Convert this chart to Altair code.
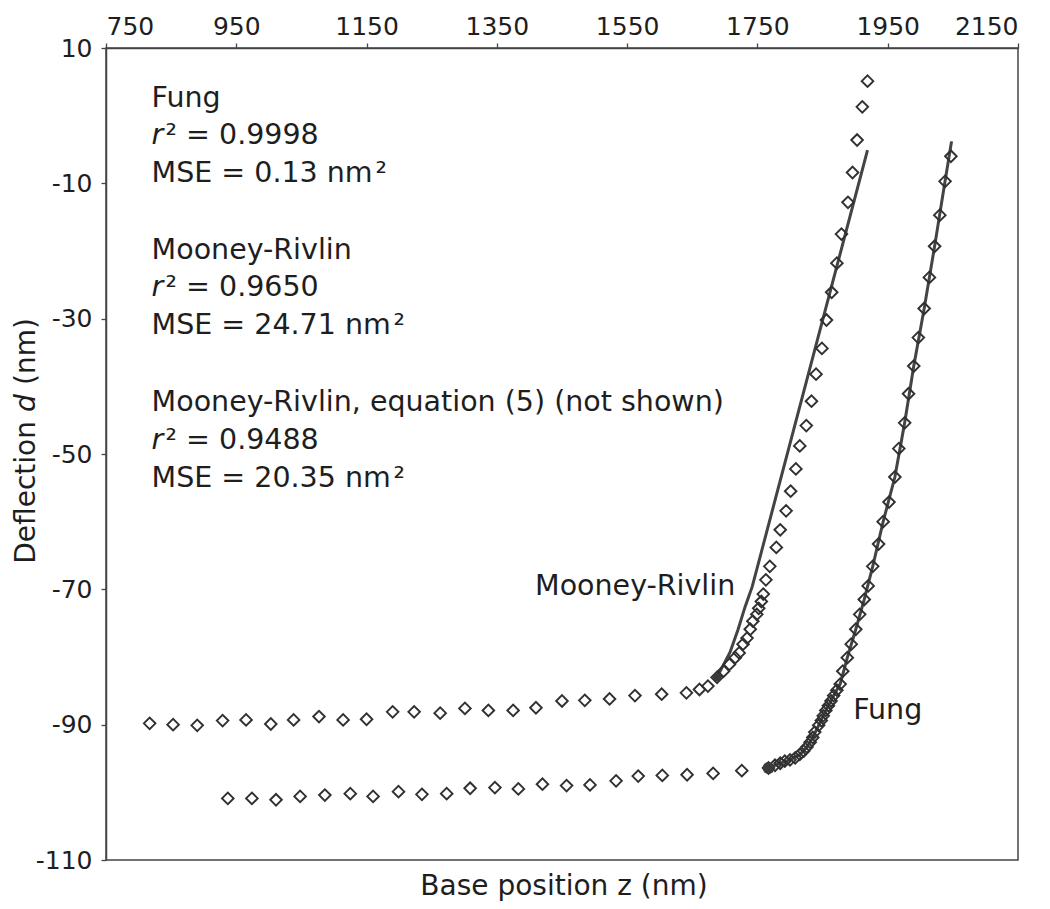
import altair as alt
import pandas as pd

FONT = "DejaVu Sans"
INK = "#1e1e1e"
GREY = "#444444"

# ---- measured data (base position z in nm, deflection d in nm) ----
# upper series (fitted with Mooney-Rivlin)
mr_z = [817, 853, 890, 929, 965, 1003, 1038, 1077, 1114, 1150, 1190, 1223, 1263, 1301,
        1337, 1375, 1410, 1450, 1485, 1523, 1562, 1603,
        1641, 1661, 1674, 1688, 1698, 1707, 1716, 1722, 1728, 1734, 1739, 1743, 1749,
        1752, 1756, 1759, 1763, 1769, 1779, 1785, 1794, 1801, 1809, 1815, 1825, 1833,
        1840, 1849, 1856, 1864, 1872, 1879, 1889, 1896, 1903, 1911, 1919]
mr_d = [-89.8, -90.0, -90.1, -89.4, -89.3, -89.9, -89.3, -88.8, -89.3, -89.2, -88.1, -88.1,
        -88.3, -87.6, -87.9, -87.9, -87.5, -86.5, -86.4, -86.2, -85.7, -85.5,
        -85.3, -84.8, -84.3, -83.0, -82.1, -81.1, -80.1, -79.4, -78.1, -77.2, -75.9, -74.7,
        -73.7, -72.8, -71.8, -70.7, -68.6, -66.6, -63.8, -61.2, -58.4, -55.5, -52.2, -48.8,
        -45.8, -42.2, -38.2, -34.4, -30.2, -26.1, -21.8, -17.5, -12.8, -8.4, -3.6, 1.3, 5.1]

# lower series (fitted with Fung)
fung_z = [937, 974, 1011, 1048, 1086, 1125, 1160, 1199, 1235, 1273, 1309, 1347, 1383, 1420,
          1457, 1493, 1533, 1567, 1604, 1642, 1682, 1726,
          1767, 1777, 1785, 1792, 1800, 1808, 1815, 1821, 1826, 1831, 1835, 1838, 1844,
          1848, 1851, 1855, 1859, 1863, 1867, 1872, 1877, 1881, 1888, 1894, 1901, 1907,
          1914, 1920, 1927, 1936, 1943, 1952, 1961, 1967, 1976, 1982, 1990, 1997, 2006,
          2014, 2022, 2030, 2038, 2047]
fung_d = [-100.9, -100.9, -101.1, -100.6, -100.4, -100.2, -100.6, -99.9, -100.3, -100.2,
          -99.4, -99.3, -99.5, -98.8, -99.0, -98.9, -98.3, -97.6, -97.5, -97.4, -97.2, -96.8,
          -96.4, -96.0, -95.7, -95.4, -95.2, -94.9, -94.4, -93.9, -93.3, -92.6, -91.9, -91.1,
          -90.1, -89.4, -88.7, -87.9, -87.2, -86.5, -85.7, -84.9, -84.0, -82.1, -80.1, -78.1,
          -75.9, -73.7, -71.5, -69.5, -66.6, -63.3, -60.0, -57.1, -53.4, -49.2, -45.4, -41.1,
          -37.0, -32.8, -28.5, -23.9, -19.3, -14.7, -9.7, -6.0]

# fitted curves
mr_fit_z = [1688, 1696, 1708, 1720, 1731, 1742, 1919]
mr_fit_d = [-83.0, -81.5, -79.3, -76.0, -72.6, -69.6, -5.1]
fung_fit_z = [1767, 1785, 1800, 1815, 1826, 1835, 1844, 1855, 1867, 1877, 1888, 1901,
              1914, 1927, 1943, 1961, 1976, 1990, 2006, 2022, 2038, 2048]
fung_fit_d = [-96.4, -95.7, -95.2, -94.4, -93.3, -91.9, -90.1, -87.9, -85.7, -84.0, -80.1,
              -75.9, -71.5, -66.6, -60.0, -53.4, -45.4, -37.0, -28.5, -19.3, -9.7, -3.8]

# contact points where the fits start
start_z = [1688, 1767]
start_d = [-83.0, -96.4]
start_size = [70, 140]

# axis ticks
x_ticks = [750, 950, 1150, 1350, 1550, 1750, 1950, 2150]
y_ticks = [-110, -90, -70, -50, -30, -10, 10]

# annotation block (text, anchored in data units)
ann_lines = ["Fung", "MSE = 0.13 nm\u200a\u00b2",
             "Mooney-Rivlin", "MSE = 24.71 nm\u200a\u00b2",
             "Mooney-Rivlin, equation (5) (not shown)", "MSE = 20.35 nm\u200a\u00b2"]
ann_d = [1.3, -9.85, -21.2, -32.3, -43.6, -54.85]
r2_vals = ["\u00b2 = 0.9998", "\u00b2 = 0.9650", "\u00b2 = 0.9488"]
r2_d = [-4.26, -26.66, -49.22]
ann_z = 820

curve_labels = ["Mooney-Rivlin", "Fung"]
curve_z = [1716, 1897]
curve_d = [-70.8, -89.1]
curve_align = ["right", "left"]

# ---- tables ----
pts = pd.DataFrame({
    "z": mr_z + fung_z,
    "d": mr_d + fung_d,
    "series": ["Mooney-Rivlin"] * len(mr_z) + ["Fung"] * len(fung_z),
})
fits = pd.DataFrame({
    "z": mr_fit_z + fung_fit_z,
    "d": mr_fit_d + fung_fit_d,
    "fit": ["Mooney-Rivlin"] * len(mr_fit_z) + ["Fung"] * len(fung_fit_z),
    "i": list(range(len(mr_fit_z))) + list(range(len(fung_fit_z))),
})
starts = pd.DataFrame({"z": start_z, "d": start_d, "s": start_size})
ann = pd.DataFrame({"z": [ann_z] * len(ann_lines), "d": ann_d, "t": ann_lines})
r2 = pd.DataFrame({"z": [ann_z] * len(r2_vals), "d": r2_d, "t": r2_vals})
cl = pd.DataFrame({"z": curve_z, "d": curve_d, "t": curve_labels, "a": curve_align})

X = alt.X("z:Q",
          scale=alt.Scale(domain=[750, 2150], nice=False, zero=False),
          axis=alt.Axis(orient="top", values=x_ticks, title=None, grid=False,
                        labelExpr="'' + datum.value", labelFont=FONT, labelFontSize=25,
                        labelColor=INK, tickColor=GREY, tickSize=5, tickWidth=1.3,
                        labelPadding=4, labelBaseline="bottom",
                        domainColor=GREY, domainWidth=1.5))
Y = alt.Y("d:Q",
          scale=alt.Scale(domain=[-110, 10], nice=False, zero=False),
          axis=alt.Axis(orient="left", values=y_ticks, title=None, grid=False,
                        labelExpr="'' + datum.value", labelFont=FONT, labelFontSize=25,
                        labelColor=INK, tickColor=GREY, tickSize=5, tickWidth=1.3,
                        labelPadding=9, domainColor=GREY, domainWidth=1.5))

points = alt.Chart(pts).mark_point(
    shape="diamond", filled=False, size=135, stroke="#303030", strokeWidth=1.9, opacity=1
).encode(x=X, y=Y)

lines = alt.Chart(fits).mark_line(color=GREY, strokeWidth=3).encode(
    x=X, y=Y, detail="fit:N", order="i:Q")

dots = alt.Chart(starts).mark_circle(color="#3a3a3a", opacity=1).encode(
    x=X, y=Y, size=alt.Size("s:Q", scale=None, legend=None))

ann_layer = alt.Chart(ann).mark_text(
    align="left", baseline="alphabetic", font=FONT, fontSize=28.5, color=INK
).encode(x=X, y=Y, text="t:N")

r_layer = alt.Chart(r2).mark_text(
    align="left", baseline="alphabetic", font=FONT, fontSize=28.5, fontStyle="italic",
    color=INK, text="r"
).encode(x=X, y=Y)

r2_layer = alt.Chart(r2).mark_text(
    align="left", baseline="alphabetic", font=FONT, fontSize=28.5, color=INK, dx=14
).encode(x=X, y=Y, text="t:N")

cl_right = alt.Chart(cl[cl["a"] == "right"]).mark_text(
    align="right", baseline="alphabetic", font=FONT, fontSize=28.5, color=INK
).encode(x=X, y=Y, text="t:N")
cl_left = alt.Chart(cl[cl["a"] == "left"]).mark_text(
    align="left", baseline="alphabetic", font=FONT, fontSize=28.5, color=INK
).encode(x=X, y=Y, text="t:N")

# axis titles (y title has an italic "d")
one = pd.DataFrame({"k": [0]})
ytitle_a = alt.Chart(one).mark_text(
    angle=270, align="right", baseline="middle", font=FONT, fontSize=28, color=INK,
    text="Deflection").encode(x=alt.value(-79), y=alt.value(373))
ytitle_b = alt.Chart(one).mark_text(
    angle=270, align="center", baseline="middle", font=FONT, fontSize=28, color=INK,
    fontStyle="italic", text="d").encode(x=alt.value(-79), y=alt.value(355))
ytitle_c = alt.Chart(one).mark_text(
    angle=270, align="left", baseline="middle", font=FONT, fontSize=28, color=INK,
    text="(nm)").encode(x=alt.value(-79), y=alt.value(337))
xtitle = alt.Chart(one).mark_text(
    align="center", baseline="alphabetic", font=FONT, fontSize=28, color=INK,
    text="Base position z (nm)").encode(x=alt.value(458), y=alt.value(847))

chart = alt.layer(
    lines, points, dots, ann_layer, r_layer, r2_layer, cl_right, cl_left,
    ytitle_a, ytitle_b, ytitle_c, xtitle
).properties(
    width=912, height=812,
    autosize=alt.AutoSizeParams(type="none"),
    padding={"left": 98, "top": 40, "right": 24, "bottom": 48},
    background="white",
).configure_view(stroke=GREY, strokeWidth=1.5)

chart.save("out.html", embed_options={"renderer": "svg", "actions": False})
